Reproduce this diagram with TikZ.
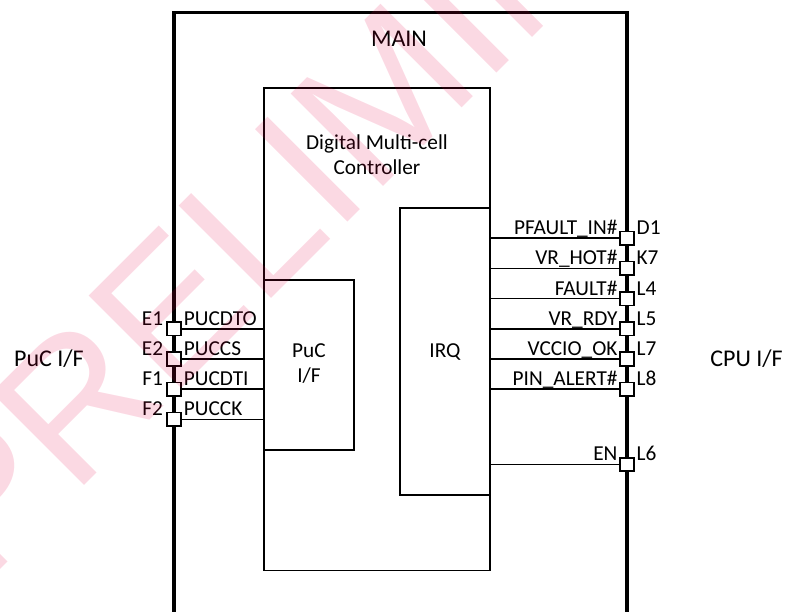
\documentclass[tikz,border=0pt]{standalone}
\usepackage{fontspec}
\setmainfont{Carlito}
\newfontfamily\wmfont{Liberation Sans}
\usetikzlibrary{calc,positioning}
\definecolor{wmred}{RGB}{230,0,70}
\tikzset{
  mainbox/.style ={draw,line width=3.3bp,minimum width=453bp,minimum height=640bp,anchor=north west,inner sep=0pt,outer sep=0pt},
  blockbox/.style={draw,line width=1.8bp,anchor=north west,inner sep=0pt,outer sep=0pt},
  pinbox/.style  ={rectangle,draw,fill=white,line width=1.6bp,minimum size=13.5bp,inner sep=0pt,outer sep=0pt},
  sigline/.style ={line width=1.7bp},
  txt/.style     ={inner sep=0pt,font=\fontsize{21.3bp}{25bp}\selectfont},
  bigtxt/.style  ={inner sep=0pt,font=\fontsize{24bp}{28bp}\selectfont},
  watermark/.style={inner sep=0pt,font=\wmfont\fontsize{190bp}{190bp}\selectfont,text=wmred,opacity=0.15,text opacity=0.15,rotate=45,anchor=base west},
}
\begin{document}
\begin{tikzpicture}[x=1bp,y=1bp]
  \useasboundingbox (0,0) rectangle (792,612);
  % blocks
  \node[mainbox] (main) at (174,599.3) {};
  \node[blockbox,minimum width=226bp,minimum height=482.5bp] (ctrl) at (264,524) {};
  \node[blockbox,minimum width=90bp,minimum height=170bp] (puc) at (264,332) {};
  \node[blockbox,minimum width=90bp,minimum height=287bp] (irq) at (400,404) {};
  % titles
  \node[bigtxt,anchor=base] (maintitle) at (399,565) {MAIN};
  \node[txt,anchor=base] (ctrltitle) at (377,462) {Digital Multi-cell};
  \node[txt,anchor=base] (ctrltitleb) at (377,437) {Controller};
  \node[txt,anchor=base] (puctitle) at (309,254) {PuC};
  \node[txt,anchor=base] (puctitleb) at (309,229) {I/F};
  \node[txt,anchor=base] (irqtitle) at (445,254) {IRQ};
  \node[bigtxt,anchor=base] (pucside) at (49,245) {PuC I/F};
  \node[bigtxt,anchor=base] (cpuside) at (746.5,245) {CPU I/F};
  % PuC pins, left edge
  \foreach \pn/\sn/\yy in {E1/PUCDTO/283.2,E2/PUCCS/253,F1/PUCDTI/222.8,F2/PUCCK/192.6}{
    \node[pinbox] (p\pn) at (main.west |- 0,\yy) {};
    \draw[sigline] (p\pn.east) -- (p\pn -| puc.west);
    \node[txt,anchor=base east] (n\pn) at ($(p\pn.west)+(-4,3.5)$) {\pn};
    \node[txt,anchor=base west] (s\pn) at ($(p\pn.east)+(3,3.5)$) {\sn};
  }
  % CPU pins, right edge
  \foreach \pn/\sn/\yy in {D1/PFAULT\_IN\#/373.8,K7/VR\_HOT\#/343.6,L4/FAULT\#/313.4,L5/VR\_RDY/283.2,L7/VCCIO\_OK/253,L8/PIN\_ALERT\#/222.8,L6/EN/147.5}{
    \node[pinbox] (p\pn) at (main.east |- 0,\yy) {};
    \draw[sigline] (p\pn.west) -- (p\pn -| irq.east);
    \node[txt,anchor=base west] (n\pn) at ($(p\pn.east)+(2.7,3.5)$) {\pn};
    \node[txt,anchor=base east] (s\pn) at ($(p\pn.west)+(-2.6,3.5)$) {\sn};
  }
  % watermark
  \node[watermark] (wm) at (-16,26) {PRELIMINARY};
\end{tikzpicture}
\end{document}
